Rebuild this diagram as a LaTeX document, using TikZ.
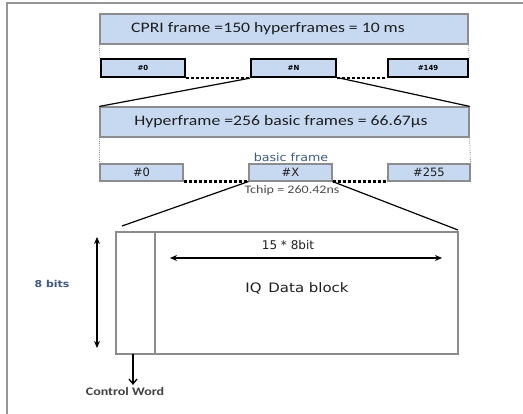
\documentclass[tikz,border=0pt]{standalone}
\usepackage{fontspec}
\setmainfont{Carlito}
\newfontfamily\widefont[FakeStretch=1.22]{Carlito}
\newfontfamily\wfont{DejaVu Sans}
\newfontfamily\wfontx[FakeStretch=1.15]{DejaVu Sans}
\usetikzlibrary{arrows.meta}
\definecolor{boxfill}{RGB}{198,217,240}
\definecolor{boxline}{RGB}{140,140,140}
\definecolor{framegray}{RGB}{150,150,150}
\definecolor{labelblue}{RGB}{60,88,135}
\definecolor{ink}{RGB}{30,30,30}
\begin{document}
\begin{tikzpicture}[x=1pt,y=-1pt,
  bigbar/.style={draw=boxline,fill=boxfill,line width=1.2pt,inner sep=0pt,
    minimum height=30pt,text=ink,font=\widefont\fontsize{14.5}{17}\selectfont},
  topcell/.style={draw=black,fill=boxfill,line width=2.4pt,inner sep=0pt,
    minimum height=18pt,font=\wfont\fontsize{7}{8}\selectfont\bfseries},
  subcell/.style={draw=boxline,fill=boxfill,line width=1.1pt,inner sep=0pt,
    minimum height=17pt,text=ink,font=\wfont\fontsize{11.5}{13}\selectfont},
  dotrow/.style={line width=2.2pt,dash pattern=on 3pt off 2pt},
  guide/.style={draw=boxline,line width=0.8pt,densely dotted},
  fan/.style={line width=1.2pt},
  dim/.style={line width=1.5pt,{Stealth[length=7pt,width=6pt]}-{Stealth[length=7pt,width=6pt]}}
]
\useasboundingbox (0,0) rectangle (523,414);
% outer frame lines (top and left)
\draw[framegray,line width=1.6pt] (7,414) -- (7,3) -- (523,3);

% CPRI frame bar and its hyperframes
\node[bigbar,minimum width=368pt] (cpri) at (284,29) {};
\node[bigbar,draw=none,fill=none] (cpritext) at (268,29) {CPRI frame =150 hyperframes = 10 ms};
\node[topcell,minimum width=84pt] (h0) at (143,68) {\#0};
\node[topcell,minimum width=85pt] (hN) at (293.5,68) {\#N};
\node[topcell,minimum width=80pt] (h149) at (428,68) {\#149};
\draw[guide] (cpri.south west) -- (h0.north west);
\draw[guide] (cpri.south east) -- (h149.north east);
\draw[dotrow] (h0.south east) -- (hN.south west);
\draw[dotrow] (hN.south east) -- (h149.south west);

% hyperframe bar and its basic frames
\node[bigbar,minimum width=369pt] (hyper) at (284.5,122) {};
\node[bigbar,draw=none,fill=none] (hypertext) at (281,122) {Hyperframe =256 basic frames = 66.67\textmu s};
\draw[fan] (hN.south west) -- (hyper.north west);
\draw[fan] ([xshift=3pt]hN.south east) -- (hyper.north east);
\node[subcell,minimum width=83pt] (b0) at (141.5,172.5) {\#0};
\node[subcell,minimum width=83pt] (bX) at (290.5,172.5) {\#X};
\node[subcell,minimum width=82pt] (b255) at (429,172.5) {\#255};
\draw[guide] (hyper.south west) -- (b0.north west);
\draw[guide] (hyper.south east) -- (b255.north east);
\draw[dotrow] (b0.south east) -- (bX.south west);
\draw[dotrow] (bX.south east) -- (b255.south west);
\node[font=\wfontx\fontsize{11}{12}\selectfont,text=labelblue,anchor=south,inner sep=1pt] (bflabel) at (291,163) {basic frame};
\node[font=\widefont\fontsize{11.5}{13}\selectfont,text=black!70,anchor=north,inner sep=1pt] (tchip) at (292,184) {Tchip = 260.42ns};

% basic frame layout: control word + IQ data block
\node[draw=boxline,line width=1.2pt,minimum width=342pt,minimum height=122pt,inner sep=0pt] (blk) at (287,293) {};
\coordinate (cwr) at (155,232);
\draw[boxline,line width=1.2pt] (cwr) -- (cwr |- blk.south);
\coordinate (fanl) at (122,226);
\coordinate (fanr) at (458,230);
\draw[fan] (bX.south west) -- (fanl);
\draw[fan] (bX.south east) -- (fanr);

\coordinate (wl) at (170,258);
\coordinate (wr) at (442,258);
\draw[dim] (wl) -- (wr);
\node[font=\wfont\fontsize{12}{14}\selectfont,text=ink] (width) at (288,245) {15 * 8bit};
\node[font=\wfontx\fontsize{13}{15}\selectfont,text=ink] (iq) at (297,288) {IQ\, Data block};

\coordinate (ht) at (97,237);
\coordinate (hb) at (97,348);
\draw[dim] (ht) -- (hb);
\node[font=\wfontx\fontsize{9.5}{11}\selectfont\bfseries,text=labelblue] (bits) at (52,284) {8 bits};

\coordinate (cwtop) at (133,354);
\coordinate (cwbot) at (133,385);
\draw[line width=1.3pt,-{Straight Barb[length=5pt,width=8pt]}] (cwtop) -- (cwbot);
\node[font=\widefont\fontsize{11.5}{13}\selectfont\bfseries,text=black!75,anchor=north,inner sep=1pt] (cw) at (125,386) {Control Word};
\end{tikzpicture}
\end{document}
